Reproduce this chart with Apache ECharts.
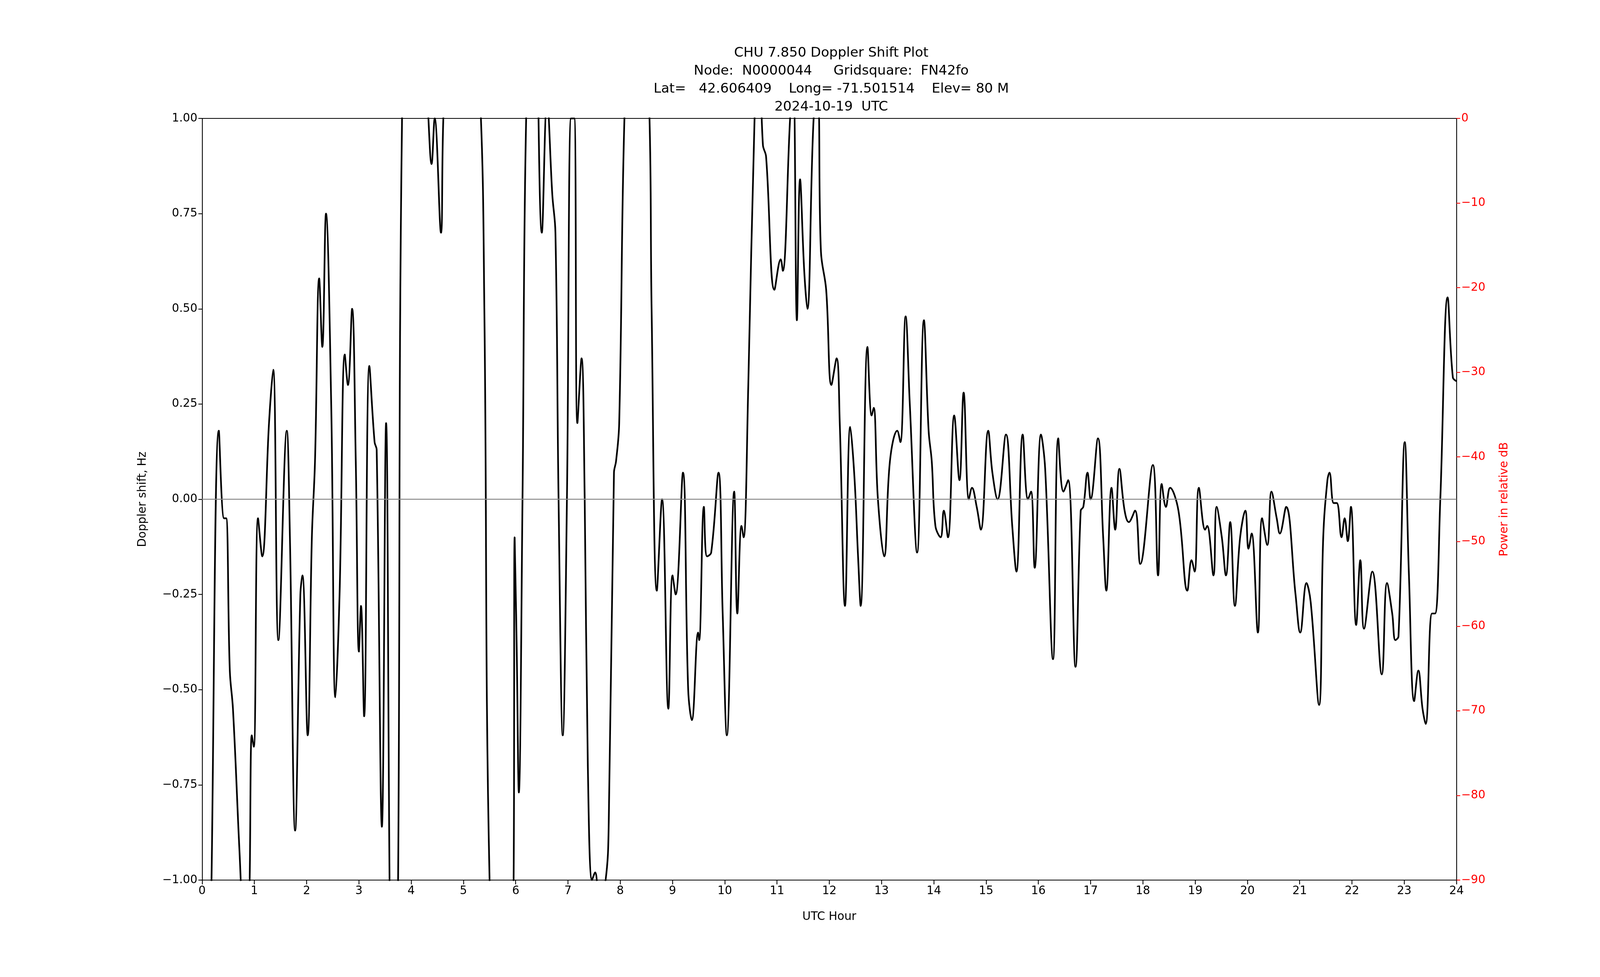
<!DOCTYPE html>
<html><head><meta charset="utf-8">
<script src="https://cdn.jsdelivr.net/npm/echarts@6/dist/echarts.min.js"></script>
<style>html,body{margin:0;padding:0;background:#fff;overflow:hidden}#c{width:100vw;height:100vh}</style>
</head><body><div id="c"></div>
<script>
const hours = [0.10,0.18,0.32,0.42,0.46,0.53,0.59,0.69,0.75,0.83,0.91,0.95,0.99,1.07,1.15,1.28,1.36,1.46,1.62,1.68,1.78,1.88,1.92,2.02,2.10,2.16,2.24,2.30,2.37,2.47,2.55,2.63,2.73,2.79,2.87,2.94,3.00,3.04,3.10,3.20,3.30,3.34,3.44,3.52,3.60,3.68,3.75,3.83,4.05,4.33,4.39,4.45,4.57,4.63,5.00,5.32,5.40,5.50,5.75,5.96,5.98,6.02,6.06,6.13,6.20,6.35,6.50,6.60,6.70,6.76,6.82,6.90,6.98,7.06,7.12,7.18,7.26,7.32,7.38,7.46,7.52,7.60,7.72,7.78,7.88,7.92,7.98,8.08,8.30,8.55,8.60,8.70,8.80,8.92,9.00,9.06,9.20,9.30,9.37,9.49,9.51,9.60,9.66,9.74,9.88,9.96,10.04,10.18,10.24,10.32,10.36,10.45,10.57,10.65,10.73,10.79,10.95,11.07,11.11,11.25,11.31,11.38,11.44,11.52,11.58,11.70,11.78,11.84,11.94,12.04,12.14,12.20,12.30,12.40,12.48,12.55,12.60,12.73,12.81,12.85,12.93,13.05,13.16,13.30,13.36,13.46,13.54,13.68,13.81,13.90,13.96,14.03,14.13,14.19,14.27,14.39,14.49,14.57,14.67,14.73,14.82,14.90,15.04,15.12,15.22,15.38,15.50,15.58,15.70,15.80,15.86,15.93,16.05,16.13,16.28,16.38,16.48,16.57,16.71,16.81,16.86,16.94,17.00,17.14,17.24,17.30,17.40,17.47,17.55,17.65,17.73,17.85,17.95,18.19,18.29,18.36,18.44,18.52,18.68,18.85,18.93,18.99,19.07,19.19,19.23,19.35,19.41,19.51,19.59,19.67,19.76,19.86,19.96,20.02,20.08,20.20,20.28,20.38,20.46,20.56,20.62,20.74,20.92,21.01,21.13,21.21,21.37,21.45,21.53,21.57,21.65,21.71,21.80,21.86,21.92,21.98,22.08,22.16,22.23,22.39,22.57,22.67,22.77,22.83,22.89,23.01,23.09,23.19,23.27,23.35,23.41,23.53,23.59,23.69,23.83,23.93,24.00];
const doppler = [-1.8,-1.0,0.18,-0.05,-0.05,-0.45,-0.55,-0.85,-1.05,-1.6,-1.0,-0.62,-0.65,-0.05,-0.15,0.2,0.34,-0.37,0.18,-0.1,-0.87,-0.25,-0.2,-0.62,-0.1,0.1,0.58,0.4,0.75,0.25,-0.52,-0.25,0.38,0.3,0.5,0.1,-0.4,-0.28,-0.57,0.35,0.15,0.13,-0.86,0.2,-1.2,-1.7,-1.0,1.05,1.8,1.0,0.88,1.0,0.7,1.05,1.8,1.05,0.5,-1.0,-1.8,-1.0,-0.1,-0.4,-0.77,0.0,1.0,1.5,0.7,1.05,0.8,0.7,0.0,-0.62,0.0,1.0,1.0,0.2,0.37,0.0,-0.7,-1.0,-0.98,-1.05,-1.0,-0.85,0.07,0.1,0.2,1.0,1.8,1.05,0.5,-0.24,0.0,-0.55,-0.2,-0.25,0.07,-0.5,-0.58,-0.35,-0.37,-0.02,-0.15,-0.14,0.07,-0.3,-0.62,0.02,-0.3,-0.07,-0.1,0.3,1.0,1.2,0.93,0.9,0.55,0.63,0.6,1.0,1.1,0.47,0.84,0.6,0.5,1.0,1.05,0.65,0.55,0.3,0.37,0.2,-0.28,0.19,0.06,-0.15,-0.28,0.4,0.22,0.24,0.0,-0.15,0.1,0.18,0.15,0.48,0.25,-0.14,0.47,0.18,0.1,-0.07,-0.1,-0.03,-0.1,0.22,0.05,0.28,0.0,0.03,-0.02,-0.08,0.18,0.07,0.0,0.17,-0.07,-0.19,0.17,0.0,0.02,-0.18,0.17,0.08,-0.42,0.16,0.02,0.05,-0.44,-0.03,-0.02,0.07,0.0,0.16,-0.1,-0.24,0.03,-0.08,0.08,-0.03,-0.06,-0.03,-0.17,0.09,-0.2,0.04,-0.02,0.03,-0.03,-0.24,-0.16,-0.19,0.03,-0.08,-0.07,-0.2,-0.02,-0.1,-0.2,-0.06,-0.28,-0.1,-0.03,-0.13,-0.09,-0.35,-0.05,-0.12,0.02,-0.05,-0.09,-0.02,-0.25,-0.35,-0.22,-0.27,-0.54,-0.1,0.05,0.07,-0.01,-0.01,-0.1,-0.05,-0.11,-0.02,-0.33,-0.16,-0.34,-0.19,-0.46,-0.22,-0.3,-0.37,-0.36,0.15,-0.2,-0.53,-0.45,-0.55,-0.59,-0.3,-0.3,0.0,0.53,0.32,0.31];
const xTicks = [0,1,2,3,4,5,6,7,8,9,10,11,12,13,14,15,16,17,18,19,20,21,22,23,24];
const titleLines = ['CHU 7.850 Doppler Shift Plot','Node:  N0000044     Gridsquare:  FN42fo','Lat=   42.606409    Long= -71.501514    Elev= 80 M','2024-10-19  UTC'];

const F = 'DejaVu Sans';
const el = document.getElementById('c');
const s = el.clientWidth / 4750;
const hs = el.clientHeight / 2500;
const P = v => v * s;
const H = v => v * hs;
const minus = v => String(v).replace('-', '\u2212');
const chart = echarts.init(el);
chart.setOption({
  animation:false, backgroundColor:'#fff',
  title:{text:titleLines.join('\n'), left:P(2462), top:H(108), textAlign:'center',
    textStyle:{fontFamily:F,fontSize:P(40),fontWeight:'normal',color:'#000',lineHeight:H(46)}},
  grid:{left:P(600), right:P(426), top:H(303), bottom:H(248)},
  xAxis:[{type:'value',min:0,max:24,interval:1,name:'UTC Hour',nameLocation:'middle',nameGap:H(80),
    nameTextStyle:{fontFamily:F,fontSize:P(34),color:'#000'},
    axisLine:{onZero:false,lineStyle:{color:'#000',width:P(2.5)}},axisTick:{length:H(11),lineStyle:{color:'#000',width:P(2.5)}},
    axisLabel:{fontFamily:F,fontSize:P(34),color:'#000',margin:H(14),formatter:v=>xTicks.includes(v)?String(v):''},splitLine:{show:false}},
    {type:'value',min:0,max:24,position:'top',axisLine:{onZero:false,lineStyle:{color:'#000',width:P(2.5)}},axisTick:{show:false},axisLabel:{show:false},splitLine:{show:false}}],
  yAxis:[{type:'value',min:-1,max:1,interval:0.25,position:'left',name:'Doppler shift, Hz',nameLocation:'middle',nameGap:P(160),nameRotate:90,
    nameTextStyle:{fontFamily:F,fontSize:P(34),color:'#000'},
    axisLine:{show:true,onZero:false,lineStyle:{color:'#000',width:P(2.5)}},axisTick:{show:true,length:P(11),lineStyle:{color:'#000',width:P(2.5)}},
    axisLabel:{fontFamily:F,fontSize:P(34),color:'#000',margin:P(14),formatter:v=>minus(v.toFixed(2))},splitLine:{show:false}},
   {type:'value',min:-90,max:0,interval:10,position:'right',name:'Power in relative dB',nameLocation:'middle',nameGap:P(125),nameRotate:90,
    nameTextStyle:{fontFamily:F,fontSize:P(34),color:'#f00'},
    axisLine:{show:true,onZero:false,lineStyle:{color:'#000',width:P(2.5)}},axisTick:{show:true,length:P(11),lineStyle:{color:'#f00',width:P(2.5)}},
    axisLabel:{fontFamily:F,fontSize:P(34),color:'#f00',margin:P(14),formatter:v=>minus(v)},splitLine:{show:false}}],
  series:[{type:'line',data:hours.map((h,i)=>[h,doppler[i]]),smooth:0.4,showSymbol:false,clip:true,
    lineStyle:{color:'#000',width:P(5)},
    markLine:{silent:true,symbol:'none',label:{show:false},lineStyle:{color:'#888',width:P(3),type:'solid'},data:[{yAxis:0}]}}]
});
</script></body></html>
